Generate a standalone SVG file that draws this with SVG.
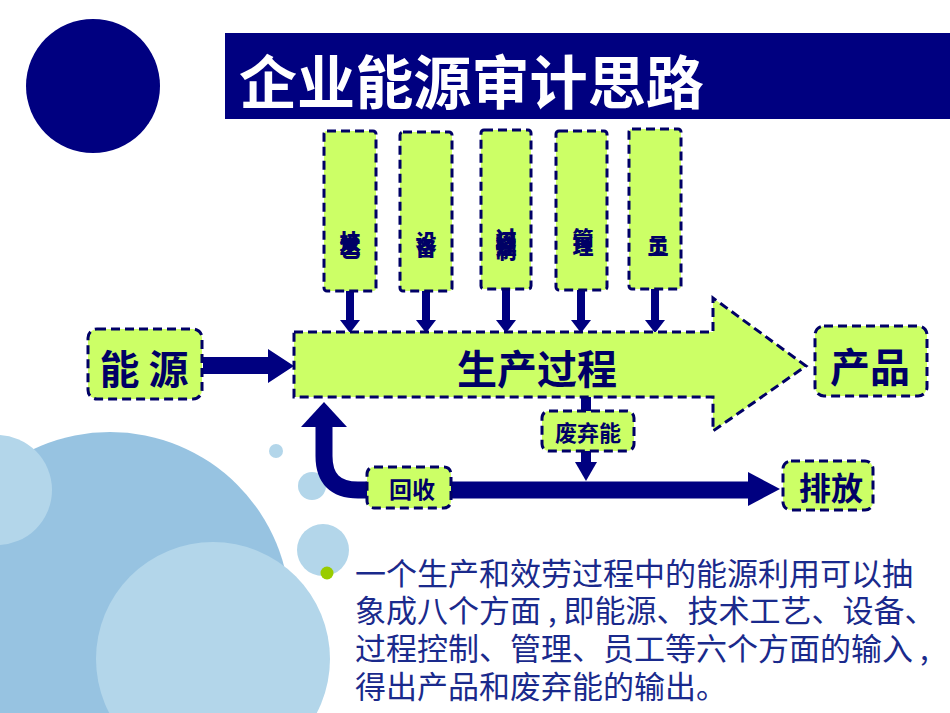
<svg xmlns="http://www.w3.org/2000/svg" width="950" height="713" viewBox="0 0 950 713">
<style>
.box{fill:#CCFF66;stroke:#000066;stroke-width:3;stroke-dasharray:9 5}
.lbl{font-family:"Noto Sans CJK SC","Noto Sans",sans-serif;font-weight:700;fill:#000066;text-anchor:middle}
.vl{font-family:"Noto Sans CJK SC",sans-serif;font-weight:900;fill:#000066;font-size:21px;writing-mode:vertical-rl;text-anchor:start}
.nv{fill:#000080}
.body{font-family:"Noto Sans CJK SC","Noto Sans",sans-serif;font-size:31px;fill:#1A2A8C}
</style>
<rect width="950" height="713" fill="#ffffff"/>
<g id="background">
  <circle cx="93" cy="86" r="67" fill="#000080"/>
  <circle cx="110" cy="612" r="180" fill="#97C3E1"/>
  <circle cx="-3" cy="490" r="55" fill="#B3D6EA"/>
  <circle cx="213" cy="659" r="117" fill="#B3D6EA"/>
  <circle cx="276" cy="451" r="7" fill="#B3D6EA"/>
  <circle cx="312" cy="486" r="14" fill="#B3D6EA"/>
  <circle cx="323" cy="550" r="26" fill="#B3D6EA"/>
  <circle cx="327" cy="573" r="6.5" fill="#99CC00"/>
</g>
<g id="title">
  <rect x="225" y="33" width="725" height="86" fill="#000080"/>
  <text x="239" y="104" font-family="'Noto Sans CJK SC',sans-serif" font-weight="700" font-size="58" fill="#ffffff" textLength="465" lengthAdjust="spacingAndGlyphs">企业能源审计思路</text>
</g>
<g id="connectors">
  <g class="nv">
    <rect x="346" y="290" width="8" height="32"/><polygon points="340,320 360,320 350,333"/>
    <rect x="422" y="290" width="8" height="32"/><polygon points="416,320 436,320 426,333"/>
    <rect x="502" y="288" width="8" height="34"/><polygon points="496,320 516,320 506,333"/>
    <rect x="577" y="289" width="8" height="33"/><polygon points="571,320 591,320 581,333"/>
    <rect x="651" y="288" width="8" height="34"/><polygon points="645,320 665,320 655,333"/>
    <polygon points="203,357 268,357 268,349 294,366 268,383 268,374 203,374"/>
    <rect x="581" y="396" width="10" height="16"/>
    <rect x="581" y="449" width="10" height="16"/>
    <polygon points="575,462 597,462 586,481"/>
    <polygon points="301,427 347,427 324,402"/>
    <polygon points="748,472 780,489 748,506"/>
  </g>
  <path d="M324,424 V456 Q324,490 358,490 H750" fill="none" stroke="#000080" stroke-width="17"/>
</g>
<g id="n-process">
  <path class="box" d="M294,332 H713 V298 L806,366 L713,431 V397 H294 Z"/>
  <text class="lbl" x="537" y="384" font-size="40">生产过程</text>
</g>
<g id="n-energy">
  <rect class="box" x="88" y="329" width="114" height="70" rx="9"/>
  <text class="lbl" x="144" y="384" font-size="40">能 源</text>
</g>
<g id="n-product">
  <rect class="box" x="815" y="326" width="112" height="70" rx="9"/>
  <text class="lbl" x="870" y="382" font-size="40">产品</text>
</g>
<g id="n-tech">
  <rect class="box" x="324" y="131" width="52" height="160" rx="3"/>
  <text class="vl" x="350" y="231" letter-spacing="-18.5">技术工艺</text>
</g>
<g id="n-equip">
  <rect class="box" x="400" y="132" width="52" height="159" rx="3"/>
  <text class="vl" x="426" y="231" letter-spacing="-15">设备</text>
</g>
<g id="n-control">
  <rect class="box" x="481" y="130" width="50" height="159" rx="3"/>
  <text class="vl" x="506" y="228" letter-spacing="-17.3">过程控制</text>
</g>
<g id="n-manage">
  <rect class="box" x="556" y="131" width="51" height="159" rx="3"/>
  <text class="vl" x="583" y="228" letter-spacing="-13">管理</text>
</g>
<g id="n-staff">
  <rect class="box" x="629" y="129" width="52" height="160" rx="3"/>
  <text class="vl" x="658" y="235" letter-spacing="-19" font-size="20">员工</text>
</g>
<g id="n-waste">
  <rect class="box" x="542" y="411" width="92" height="40" rx="7"/>
  <text class="lbl" x="588" y="441" font-size="22">废弃能</text>
</g>
<g id="n-recycle">
  <rect class="box" x="367" y="467" width="84" height="41" rx="7"/>
  <text class="lbl" x="412" y="498" font-size="23">回收</text>
</g>
<g id="n-emit">
  <rect class="box" x="783" y="461" width="90" height="49" rx="8"/>
  <text class="lbl" x="831" y="500" font-size="32">排放</text>
</g>
<g id="description">
  <text class="body" x="355" y="585"><tspan x="355" y="585">一个生产和效劳过程中的能源利用可以抽</tspan><tspan x="355" y="622">象成八个方面 , 即能源、技术工艺、设备、</tspan><tspan x="355" y="660">过程控制、管理、员工等六个方面的输入 ,</tspan><tspan x="355" y="698">得出产品和废弃能的输出。</tspan></text>
</g>
</svg>
